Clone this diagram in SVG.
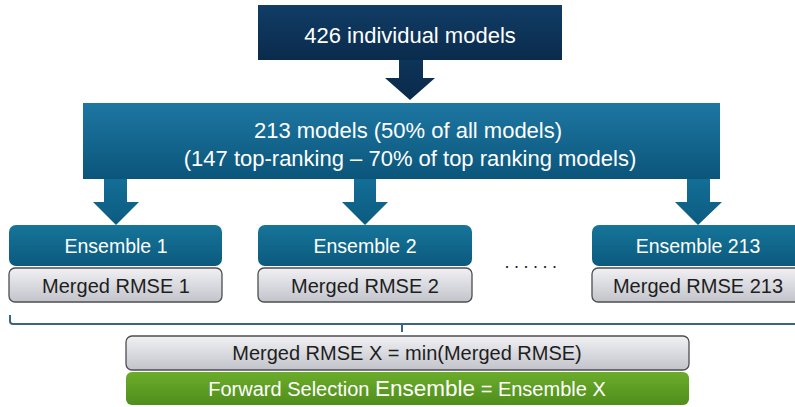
<svg xmlns="http://www.w3.org/2000/svg" width="795" height="407" viewBox="0 0 795 407">
<defs>
<linearGradient id="gTop" x1="0" y1="0" x2="0" y2="1"><stop offset="0" stop-color="#113d66"/><stop offset="1" stop-color="#0a2b4c"/></linearGradient>
<linearGradient id="gMid" x1="0" y1="0" x2="0" y2="1"><stop offset="0" stop-color="#1d77a2"/><stop offset="1" stop-color="#0b557a"/></linearGradient>
<linearGradient id="gEns" x1="0" y1="0" x2="0" y2="1"><stop offset="0" stop-color="#167599"/><stop offset="1" stop-color="#0b5a7e"/></linearGradient>
<linearGradient id="gGray" x1="0" y1="0" x2="0" y2="1"><stop offset="0" stop-color="#f1f1f4"/><stop offset="1" stop-color="#c2c4cb"/></linearGradient>
<linearGradient id="gGreen" x1="0" y1="0" x2="0" y2="1"><stop offset="0" stop-color="#6cac2b"/><stop offset="1" stop-color="#4f8e1b"/></linearGradient>
<linearGradient id="gArrTop" x1="0" y1="0" x2="0" y2="1"><stop offset="0" stop-color="#0d3459"/><stop offset="1" stop-color="#0a2a4a"/></linearGradient>
<linearGradient id="gArr" x1="0" y1="0" x2="0" y2="1"><stop offset="0" stop-color="#136e96"/><stop offset="1" stop-color="#0c5b80"/></linearGradient>
</defs>
<style>
text{font-family:"Liberation Sans",Arial,sans-serif;text-anchor:middle}
.w{fill:#ffffff}
.k{fill:#1e1e1e}
.ens{fill:url(#gEns)}
.mr{fill:url(#gGray);stroke:#4d4d52;stroke-width:1.3}
.arr{fill:url(#gArr)}
</style>

<g id="connectors">
<path d="M399,60 H423 V78 H435 L410,100 L385,78 H399 Z" fill="url(#gArrTop)"/>
<path d="M104,179 H127 V202 H139 L116,225 L93,202 H104 Z" class="arr"/>
<path d="M354,179 H376 V202 H388 L365,225 L342,202 H354 Z" class="arr"/>
<path d="M687,179 H710 V202 H722 L698,225 L675,202 H687 Z" class="arr"/>
<path d="M10,315 V321 Q10,324 13,324 H795" fill="none" stroke="#3a6485" stroke-width="2"/>
<path d="M402,324 V332" fill="none" stroke="#3a6485" stroke-width="2"/>
</g>

<g id="top">
<rect x="258" y="5" width="304" height="55" fill="url(#gTop)"/>
<text x="410" y="43" font-size="22" class="w">426 individual models</text>
</g>

<g id="subset">
<rect x="83" y="103" width="637" height="76" fill="url(#gMid)"/>
<text x="408" y="138" font-size="22" class="w">213 models (50% of all models)</text>
<text x="410" y="166" font-size="22" class="w">(147 top-ranking – 70% of top ranking models)</text>
</g>

<g id="ensemble1">
<rect x="9" y="225" width="213" height="41" rx="7" class="ens"/>
<text x="116" y="253" font-size="19.5" class="w">Ensemble 1</text>
<rect x="9" y="268" width="213" height="34" rx="6" class="mr"/>
<text x="116" y="293" font-size="20" class="k">Merged RMSE 1</text>
</g>

<g id="ensemble2">
<rect x="258" y="225" width="214" height="41" rx="7" class="ens"/>
<text x="365" y="253" font-size="19.5" class="w">Ensemble 2</text>
<rect x="258" y="268" width="214" height="34" rx="6" class="mr"/>
<text x="365" y="293" font-size="20" class="k">Merged RMSE 2</text>
</g>

<g id="dots">
<text x="533" y="268" font-size="18" letter-spacing="4.5" class="k" fill="#333">......</text>
</g>

<g id="ensemble213">
<rect x="592" y="225" width="214" height="41" rx="7" class="ens"/>
<text x="698" y="253" font-size="19.5" class="w">Ensemble 213</text>
<rect x="592" y="268" width="214" height="34" rx="6" class="mr"/>
<text x="698" y="293" font-size="20" class="k">Merged RMSE 213</text>
</g>

<g id="min">
<rect x="126" y="336" width="563" height="34" rx="6" class="mr"/>
<text x="407" y="360" font-size="20" class="k">Merged RMSE X = min(Merged RMSE)</text>
</g>

<g id="forward">
<rect x="126" y="372" width="563" height="33" rx="6" fill="url(#gGreen)"/>
<text x="407" y="396" font-size="20" class="w">Forward Selection <tspan font-size="22.5">Ensemble</tspan> = Ensemble X</text>
</g>
</svg>
